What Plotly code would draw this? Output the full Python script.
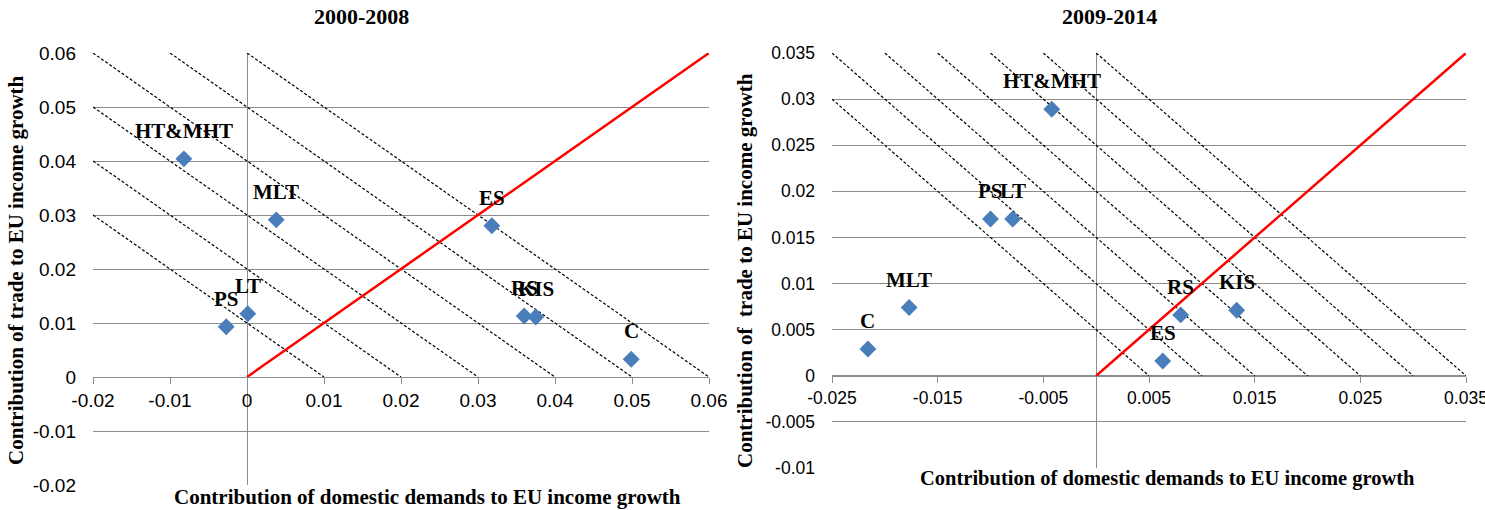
import plotly.graph_objects as go

# ---------------- data ----------------
sectors_a = ["HT&MHT", "MLT", "ES", "RS", "KIS", "C", "PS", "LT"]
dom_a = [-0.0082, 0.0038, 0.0318, 0.0360, 0.0375, 0.0499, -0.0027, 0.0001]
trade_a = [0.0404, 0.0291, 0.0280, 0.0113, 0.0111, 0.0033, 0.0093, 0.0117]

sectors_b = ["HT&MHT", "PS", "LT", "MLT", "C", "RS", "KIS", "ES"]
dom_b = [-0.0042, -0.0100, -0.0079, -0.0177, -0.0216, 0.0080, 0.0133, 0.0063]
trade_b = [0.0289, 0.0170, 0.0170, 0.0074, 0.0029, 0.0066, 0.0071, 0.0016]

iso_a = [0.01, 0.02, 0.03, 0.04, 0.05, 0.06]
iso_b = [0.005, 0.01, 0.015, 0.02, 0.025, 0.03, 0.035]

xr_a = [-0.02, 0.06]
yr_a = [-0.02, 0.06]
xr_b = [-0.025, 0.035]
yr_b = [-0.01, 0.035]

xt_a = [-0.02, -0.01, 0, 0.01, 0.02, 0.03, 0.04, 0.05, 0.06]
xtl_a = ["-0.02", "-0.01", "0", "0.01", "0.02", "0.03", "0.04", "0.05", "0.06"]
yt_a = [-0.02, -0.01, 0, 0.01, 0.02, 0.03, 0.04, 0.05, 0.06]
ytl_a = ["-0.02", "-0.01", "0", "0.01", "0.02", "0.03", "0.04", "0.05", "0.06"]
xt_b = [-0.025, -0.015, -0.005, 0.005, 0.015, 0.025, 0.035]
xtl_b = ["-0.025", "-0.015", "-0.005", "0.005", "0.015", "0.025", "0.035"]
yt_b = [-0.01, -0.005, 0, 0.005, 0.01, 0.015, 0.02, 0.025, 0.03, 0.035]
ytl_b = ["-0.01", "-0.005", "0", "0.005", "0.01", "0.015", "0.02", "0.025", "0.03", "0.035"]

titles = ["2000-2008", "2009-2014"]
xtitle = "Contribution of domestic demands to EU income growth"
ytitles = ["Contribution of trade to EU income growth",
           "Contribution of&nbsp; trade to EU income growth"]

# ---------------- styles ----------------
W, H = 1485, 510
GRID = "#8c8c8c"
BLUE = "#4a7ebb"
SERIF = "Liberation Serif, Times New Roman, serif"
SANS = "Liberation Sans, Arial, sans-serif"

dom_xa = [93 / W, 709 / W]
dom_ya = [1 - 485 / H, 1 - 53 / H]
dom_xb = [832 / W, 1466 / W]
dom_yb = [1 - 468 / H, 1 - 53 / H]


def zero_pos(dom, rng):
    return dom[0] + (0 - rng[0]) / (rng[1] - rng[0]) * (dom[1] - dom[0])


def iso_lines(cs, xr, yr):
    xs, ys = [], []
    for c in cs:
        x0 = max(xr[0], c - yr[1])
        xs += [x0, c, None]
        ys += [c - x0, 0, None]
    return xs, ys


fig = go.Figure()

panels = [
    (dom_a, trade_a, sectors_a, iso_a, xr_a, yr_a, "x", "y"),
    (dom_b, trade_b, sectors_b, iso_b, xr_b, yr_b, "x2", "y2"),
]
annotations = []
for dx, dy, names, isos, xr, yr, xa, ya in panels:
    lx, ly = iso_lines(isos, xr, yr)
    fig.add_trace(go.Scatter(x=lx, y=ly, mode="lines", xaxis=xa, yaxis=ya,
                             line=dict(color="black", width=1.2, dash="3px,2px"),
                             hoverinfo="skip", showlegend=False))
    fig.add_trace(go.Scatter(x=[0, xr[1]], y=[0, xr[1]], mode="lines", xaxis=xa, yaxis=ya,
                             line=dict(color="#ff0000", width=2.5),
                             hoverinfo="skip", showlegend=False))
    fig.add_trace(go.Scatter(x=dx, y=dy, mode="markers", xaxis=xa, yaxis=ya,
                             marker=dict(symbol="diamond", size=13, color=BLUE),
                             text=names, showlegend=False))
    for n, xv, yv in zip(names, dx, dy):
        annotations.append(dict(x=xv, y=yv, xref=xa, yref=ya, text="<b>" + n + "</b>",
                                showarrow=False, yshift=28, xanchor="center", yanchor="middle",
                                font=dict(family=SERIF, size=21, color="black")))


def paper_text(txt, px, py, size, angle=0):
    return dict(x=px / W, y=1 - py / H, xref="paper", yref="paper",
                text="<b>" + txt + "</b>", showarrow=False, textangle=angle,
                xanchor="center", yanchor="middle",
                font=dict(family=SERIF, size=size, color="black"))


annotations.append(paper_text(titles[0], 361, 17, 22))
annotations.append(paper_text(titles[1], 1109, 17, 22))
annotations.append(paper_text(xtitle, 427, 497, 21))
annotations.append(paper_text(xtitle, 1167, 478, 20.5))
annotations.append(paper_text(ytitles[0], 16, 270, 21, -90))
annotations.append(paper_text(ytitles[1], 745, 271, 21, -90))


def xaxis(dom, rng, tv, tt, ydom, yrng, fs):
    return dict(domain=dom, range=rng, anchor="free", position=zero_pos(ydom, yrng),
                tickvals=tv, ticktext=tt, showgrid=False,
                showline=True, linecolor=GRID, linewidth=1,
                ticks="outside", ticklen=6, tickcolor=GRID,
                zeroline=True, zerolinecolor=GRID, zerolinewidth=1,
                ticklabeloverflow="allow",
                tickfont=dict(family=SANS, size=fs, color="black"),
                fixedrange=True, automargin=False)


def yaxis(dom, rng, tv, tt, xname, fs):
    return dict(domain=dom, range=rng, anchor=xname, tickvals=tv, ticktext=tt,
                showgrid=True, gridcolor=GRID, gridwidth=1, zeroline=False,
                showline=False, ticks="", ticklabelstandoff=16,
                ticklabeloverflow="allow",
                tickfont=dict(family=SANS, size=fs, color="black"),
                fixedrange=True, automargin=False)


fig.update_layout(
    width=W, height=H,
    margin=dict(l=0, r=0, t=0, b=0),
    paper_bgcolor="white", plot_bgcolor="white",
    xaxis=xaxis(dom_xa, xr_a, xt_a, xtl_a, dom_ya, yr_a, 19),
    yaxis=yaxis(dom_ya, yr_a, yt_a, ytl_a, "x", 19),
    xaxis2=xaxis(dom_xb, xr_b, xt_b, xtl_b, dom_yb, yr_b, 17.5),
    yaxis2=yaxis(dom_yb, yr_b, yt_b, ytl_b, "x2", 17.5),
    annotations=annotations,
    showlegend=False,
)

fig.write_html("out.html")
